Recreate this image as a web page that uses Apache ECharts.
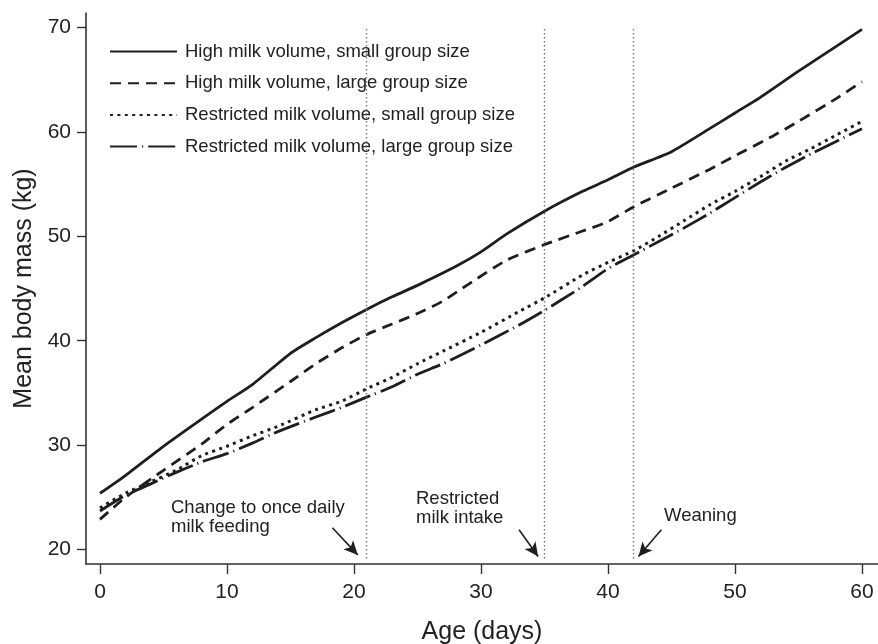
<!DOCTYPE html>
<html>
<head>
<meta charset="utf-8">
<script src="https://cdn.jsdelivr.net/npm/echarts@6/dist/echarts.min.js"></script>
<style>
  html, body { margin: 0; padding: 0; background: #fff; }
  #main { width: 878px; height: 644px; }
</style>
</head>
<body>
<div id="main"></div>
<script>
// series names
const names = [
  'High milk volume, small group size',
  'High milk volume, large group size',
  'Restricted milk volume, small group size',
  'Restricted milk volume, large group size'
];
// [age (days), mean body mass (kg)]
const highSmall = [[0,25.4],[2,27.1],[5,29.9],[8,32.5],[10,34.2],[12,35.8],[15,38.8],[17,40.3],[19,41.7],[21,43.0],[23,44.2],[25,45.3],[28,47.1],[30,48.5],[32,50.2],[35,52.4],[38,54.3],[40,55.4],[42,56.6],[45,58.1],[48,60.3],[50,61.8],[52,63.3],[55,65.8],[58,68.2],[60,69.8]];
const highLarge = [[0,22.9],[2,25.0],[5,27.6],[8,30.1],[10,32.0],[12,33.6],[15,36.1],[17,37.8],[19,39.3],[21,40.6],[23,41.6],[25,42.6],[27,43.8],[29,45.4],[32,47.7],[35,49.2],[38,50.5],[40,51.4],[42,52.8],[45,54.6],[48,56.4],[50,57.7],[53,59.6],[55,61.0],[58,63.2],[60,64.8]];
const restSmall = [[0,24.0],[2,25.4],[4,26.5],[6,27.6],[8,29.0],[10,29.9],[12,30.9],[14,31.8],[17,33.4],[19,34.2],[21,35.4],[23,36.5],[25,37.8],[27,39.0],[30,40.8],[33,42.8],[35,44.1],[38,46.3],[40,47.5],[42,48.6],[44,50.0],[46,51.5],[48,53.0],[50,54.3],[52,55.7],[54,57.2],[56,58.4],[58,59.7],[60,61.0]];
const restLarge = [[0,23.7],[2,25.2],[4,26.3],[6,27.4],[8,28.4],[10,29.2],[12,30.2],[14,31.3],[17,32.7],[19,33.6],[21,34.6],[23,35.6],[25,36.8],[27,37.8],[30,39.6],[33,41.5],[35,42.9],[38,45.2],[40,46.9],[42,48.2],[44,49.5],[46,50.8],[48,52.2],[50,53.7],[52,55.2],[54,56.6],[56,57.9],[58,59.1],[60,60.3]];

// tick labels
const xTicks = [0, 10, 20, 30, 40, 50, 60];
const yTicks = [20, 30, 40, 50, 60, 70];

// events (days) marked by vertical dotted lines
const eventDays = [21, 35, 42];
// arrows: [from, to] in data units
const arrows = [
  [[18.3, 22.1], [20.3, 19.5]],
  [[33.0, 21.9], [34.5, 19.35]],
  [[44.2, 21.9], [42.4, 19.35]]
];

const ink = '#1e1e1e';
const font = 'Liberation Sans, Arial, Helvetica, sans-serif';

const chart = echarts.init(document.getElementById('main'));

function lineSeries(name, data, dash, width) {
  return {
    name: name,
    type: 'line',
    data: data,
    symbol: 'none',
    smooth: 0.2,
    lineStyle: { color: ink, width: width, type: dash, cap: 'butt' },
    itemStyle: { color: ink }
  };
}

const series = [
  lineSeries(names[0], highSmall, 'solid', 2.8),
  lineSeries(names[1], highLarge, [11, 7], 2.8),
  lineSeries(names[2], restSmall, [3, 4.4], 3),
  lineSeries(names[3], restLarge, [27, 5, 1.2, 5], 2.8)
];

// vertical event lines + arrows as mark lines on an empty helper series
series.push({
  type: 'line',
  data: [],
  silent: true,
  markLine: {
    silent: true,
    animation: false,
    label: { show: false },
    data: eventDays.map(d => [
      { coord: [d, 69.85], symbol: 'none', lineStyle: { color: '#777', width: 1.4, type: [1.5, 2.5] } },
      { coord: [d, 19.05], symbol: 'none' }
    ]).concat(arrows.map(a => [
      { coord: a[0], symbol: 'none', lineStyle: { color: ink, width: 1.6, type: 'solid' } },
      { coord: a[1], symbol: 'arrow', symbolSize: [10, 14] }
    ]))
  }
});

const option = {
  animation: false,
  backgroundColor: '#fff',
  textStyle: { fontFamily: font },
  grid: { left: 86, right: 0, top: 13, bottom: 80, containLabel: false, outerBoundsMode: 'none' },
  legend: {
    orient: 'vertical',
    left: 104,
    top: 37,
    itemWidth: 67,
    itemHeight: 14,
    itemGap: 12.7,
    data: names,
    itemStyle: { opacity: 0 },
    textStyle: { fontSize: 18.5, color: '#222', fontFamily: font, padding: [0, 0, 0, 3] }
  },
  xAxis: {
    type: 'value',
    min: -1.1,
    max: 61.26,
    name: 'Age (days)',
    nameLocation: 'middle',
    nameGap: 56,
    nameTextStyle: { fontSize: 25, color: '#222', fontFamily: font },
    axisLine: { onZero: false, lineStyle: { color: '#333', width: 1.6 } },
    axisTick: { length: 10, lineStyle: { color: '#333', width: 1.4 }, customValues: xTicks },
    axisLabel: { fontSize: 21, color: '#222', margin: 18, fontFamily: font, customValues: xTicks },
    splitLine: { show: false }
  },
  yAxis: {
    type: 'value',
    min: 18.63,
    max: 71.37,
    name: 'Mean body mass (kg)',
    nameLocation: 'middle',
    nameGap: 38,
    nameRotate: 90,
    nameTextStyle: { fontSize: 25, color: '#222', fontFamily: font },
    axisLine: { show: true, onZero: false, lineStyle: { color: '#333', width: 1.6 } },
    axisTick: { show: true, length: 9, lineStyle: { color: '#333', width: 1.4 }, customValues: yTicks },
    axisLabel: { fontSize: 21, color: '#222', margin: 15, fontFamily: font, customValues: yTicks },
    splitLine: { show: false }
  },
  graphic: [
    { type: 'text', left: 171, top: 498, style: { text: 'Change to once daily\nmilk feeding', font: '18.5px ' + font, fill: '#222', lineHeight: 19 } },
    { type: 'text', left: 416, top: 489, style: { text: 'Restricted\nmilk intake', font: '18.5px ' + font, fill: '#222', lineHeight: 19 } },
    { type: 'text', left: 664, top: 506, style: { text: 'Weaning', font: '18.5px ' + font, fill: '#222' } }
  ],
  series: series
};

chart.setOption(option);
</script>
</body>
</html>
